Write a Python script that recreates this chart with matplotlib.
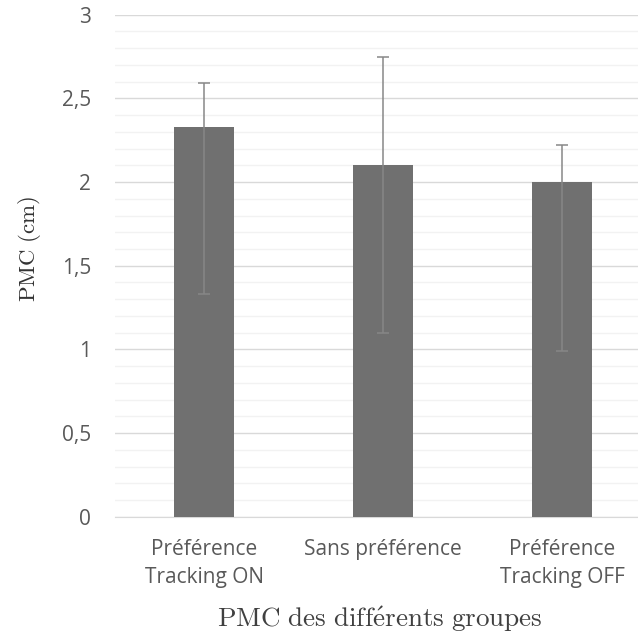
import matplotlib
matplotlib.use("Agg")
import matplotlib.pyplot as plt
import numpy as np
from matplotlib.ticker import MultipleLocator, FuncFormatter

groups = ["Préférence\nTracking ON", "Sans préférence", "Préférence\nTracking OFF"]
pmc_mean = [2.33, 2.10, 2.00]
err_upper = [2.59, 2.75, 2.22]
err_lower = [1.33, 1.10, 0.99]

plt.rcParams['mathtext.fontset'] = 'cm'

fig = plt.figure(figsize=(6.38, 6.38), dpi=100)
ax = fig.add_axes([0.18, 0.19, 0.83, 0.787])

x = np.arange(len(groups))
mean = np.array(pmc_mean)
yerr = [mean - np.array(err_lower), np.array(err_upper) - mean]

ax.bar(x, mean, width=1/3, color='#707070', zorder=3)
ax.errorbar(x, mean, yerr=yerr, fmt='none', ecolor='#878787', elinewidth=1.1,
            capsize=4.5, capthick=1.1, zorder=4)

ax.set_ylim(0, 3)
ax.set_xlim(-0.5, 2.46)
ax.yaxis.set_major_locator(MultipleLocator(0.5))
ax.yaxis.set_minor_locator(MultipleLocator(0.1))
ax.yaxis.set_major_formatter(FuncFormatter(lambda v, p: ('%g' % v).replace('.', ',')))
ax.grid(which='major', axis='y', color='#d9d9d9', linewidth=1.0, zorder=0)
ax.grid(which='minor', axis='y', color='#f2f2f2', linewidth=1.0, zorder=0)

for s in ['top', 'right', 'left']:
    ax.spines[s].set_visible(False)
ax.spines['bottom'].set_color('#d9d9d9')
ax.tick_params(which='both', length=0)
ax.tick_params(axis='y', which='major', pad=17)
ax.tick_params(axis='x', which='major', pad=16)

ax.set_xticks(x)
ax.set_xticklabels(groups, fontfamily='Open Sans', fontsize=15, color='#595959',
                   linespacing=1.45)
for lbl in ax.get_yticklabels():
    lbl.set_fontfamily('Open Sans')
    lbl.set_fontsize(15)
    lbl.set_color('#595959')

ax.set_xlabel(r'$\mathrm{PMC\ des\ diff\acute{e}rents\ groupes}$', fontsize=19.5,
              color='#404040')
ax.set_ylabel(r'$\mathrm{PMC\ (cm)}$', fontsize=16.5, color='#333333')
ax.xaxis.set_label_coords(0.5, -0.175)
ax.yaxis.set_label_coords(-0.135, 0.534)

fig.savefig('out.png', dpi=100)
